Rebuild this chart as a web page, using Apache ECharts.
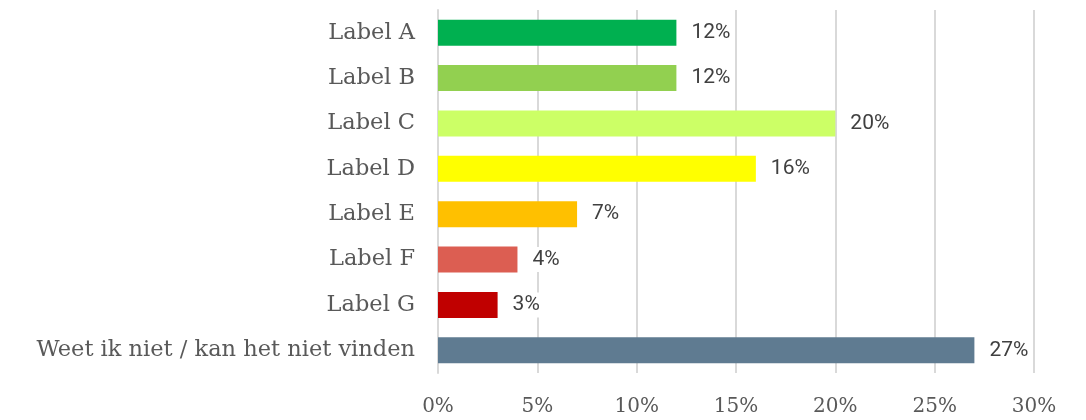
<!DOCTYPE html>
<html>
<head>
<meta charset="utf-8">
<script src="https://cdn.jsdelivr.net/npm/echarts@6/dist/echarts.min.js"></script>
<style>
html, body { margin: 0; padding: 0; background: #fff; }
#main { width: 1086px; height: 420px; }
</style>
</head>
<body>
<div id="main"></div>
<script>
const categories = ['Label A', 'Label B', 'Label C', 'Label D', 'Label E', 'Label F', 'Label G', 'Weet ik niet / kan het niet vinden']
const values = [12, 12, 20, 16, 7, 4, 3, 27]
const barColors = ['#00B050', '#92D050', '#CCFF66', '#FFFF00', '#FFC000', '#DC5E52', '#C00000', '#5F7B91']
const xTicks = [0, 5, 10, 15, 20, 25, 30]

const chart = echarts.init(document.getElementById('main'))

const option = {
  animation: false,
  grid: { left: 438, right: 52, top: 10, bottom: 47, containLabel: false },
  xAxis: {
    type: 'value',
    min: xTicks[0],
    max: xTicks[xTicks.length - 1],
    interval: 5,
    axisLine: { show: false },
    axisTick: { show: false },
    splitLine: { lineStyle: { color: '#d9d9d9', width: 2 } },
    axisLabel: {
      formatter: '{value}%',
      fontFamily: 'DejaVu Serif',
      fontSize: 20,
      color: '#595959',
      margin: 24
    }
  },
  yAxis: {
    type: 'category',
    data: categories,
    inverse: true,
    axisLine: { show: true, lineStyle: { color: '#d9d9d9', width: 2 } },
    axisTick: { show: false },
    axisLabel: {
      fontFamily: 'DejaVu Serif',
      fontSize: 22.5,
      color: '#595959',
      margin: 23
    }
  },
  series: [{
    type: 'bar',
    barWidth: 26,
    data: values.map((v, i) => ({ value: v, itemStyle: { color: barColors[i] } })),
    label: {
      show: true,
      position: 'right',
      distance: 12,
      formatter: '{c}%',
      fontFamily: 'Roboto',
      fontSize: 21,
      color: '#404040',
      backgroundColor: '#fff',
      padding: [2, 3]
    }
  }]
}

chart.setOption(option)
</script>
</body>
</html>
